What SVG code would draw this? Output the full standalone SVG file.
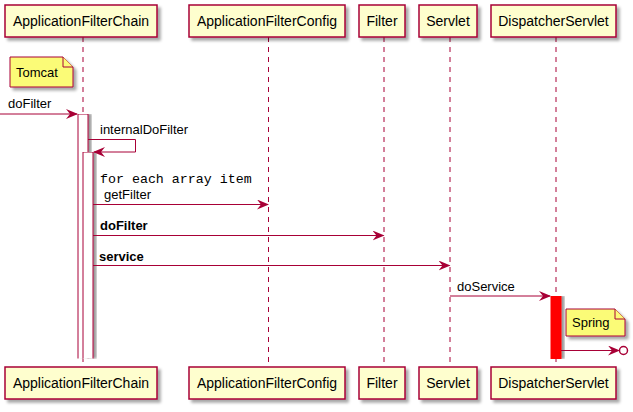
<svg xmlns="http://www.w3.org/2000/svg" width="633" height="412" viewBox="0 0 633 412">
<defs>
<filter id="sh" x="-10%" y="-10%" width="130%" height="150%">
<feGaussianBlur in="SourceAlpha" stdDeviation="1.5"/>
<feOffset dx="3" dy="3" result="b"/>
<feComponentTransfer><feFuncA type="linear" slope="0.35"/></feComponentTransfer>
<feMerge><feMergeNode/><feMergeNode in="SourceGraphic"/></feMerge>
</filter>
<filter id="shr" x="-10%" y="0%" width="150%" height="100%">
<feGaussianBlur in="SourceAlpha" stdDeviation="1"/>
<feOffset dx="3" dy="0" result="b"/>
<feComponentTransfer><feFuncA type="linear" slope="0.4"/></feComponentTransfer>
<feMerge><feMergeNode/><feMergeNode in="SourceGraphic"/></feMerge>
</filter>
<marker id="ah" viewBox="0 0 12 10" refX="11" refY="5" markerWidth="12" markerHeight="10" markerUnits="userSpaceOnUse" orient="auto">
<path d="M0,0 L12,5 L0,10 L4,5 Z" fill="#A80036"/>
</marker>
</defs>
<style>
.box{fill:#FEFECE;stroke:#A80036;stroke-width:1.5}
.life{stroke:#A80036;stroke-width:1;stroke-dasharray:5,5;fill:none}
.pt{font-family:"Liberation Sans",Arial,sans-serif;font-size:14px;fill:#000}
.mt{font-family:"Liberation Sans",Arial,sans-serif;font-size:13px;fill:#000}
.mb{font-family:"Liberation Sans",Arial,sans-serif;font-size:13px;font-weight:bold;fill:#000}
.mono{font-family:"Liberation Mono","Courier New",monospace;font-size:13.3px;fill:#000}
.msg{stroke:#A80036;stroke-width:1;fill:none}
.note{fill:#FBFB77;stroke:#A80036;stroke-width:1}
.act{fill:#FFFFFF;stroke:#A80036;stroke-width:1}
</style>
<g id="lifelines">
<line class="life" x1="83" y1="37" x2="83" y2="367"/>
<line class="life" x1="268.5" y1="37" x2="268.5" y2="367"/>
<line class="life" x1="384" y1="37" x2="384" y2="367"/>
<line class="life" x1="450" y1="37" x2="450" y2="367"/>
<line class="life" x1="556" y1="37" x2="556" y2="367"/>
</g>
<g id="p-chain">
<rect class="box" x="5" y="5" width="152" height="32" filter="url(#sh)"/>
<text class="pt" x="81" y="26" text-anchor="middle">ApplicationFilterChain</text>
<rect class="box" x="5" y="367" width="152" height="32" filter="url(#sh)"/>
<text class="pt" x="81" y="388" text-anchor="middle">ApplicationFilterChain</text>
</g>
<g id="p-config">
<rect class="box" x="189" y="5" width="156" height="32" filter="url(#sh)"/>
<text class="pt" x="267" y="26" text-anchor="middle">ApplicationFilterConfig</text>
<rect class="box" x="189" y="367" width="156" height="32" filter="url(#sh)"/>
<text class="pt" x="267" y="388" text-anchor="middle">ApplicationFilterConfig</text>
</g>
<g id="p-filter">
<rect class="box" x="359" y="5" width="46" height="32" filter="url(#sh)"/>
<text class="pt" x="382" y="26" text-anchor="middle">Filter</text>
<rect class="box" x="359" y="367" width="46" height="32" filter="url(#sh)"/>
<text class="pt" x="382" y="388" text-anchor="middle">Filter</text>
</g>
<g id="p-servlet">
<rect class="box" x="419" y="5" width="58" height="32" filter="url(#sh)"/>
<text class="pt" x="448" y="26" text-anchor="middle">Servlet</text>
<rect class="box" x="419" y="367" width="58" height="32" filter="url(#sh)"/>
<text class="pt" x="448" y="388" text-anchor="middle">Servlet</text>
</g>
<g id="p-dispatcher">
<rect class="box" x="491" y="5" width="125" height="32" filter="url(#sh)"/>
<text class="pt" x="553.5" y="26" text-anchor="middle">DispatcherServlet</text>
<rect class="box" x="491" y="367" width="125" height="32" filter="url(#sh)"/>
<text class="pt" x="553.5" y="388" text-anchor="middle">DispatcherServlet</text>
</g>
<g id="activations">
<path d="M78,358.5 L78,114 L88,114 L88,358.5" class="act" filter="url(#shr)"/>
<path d="M83,358.5 L83,152 L93,152 L93,358.5" class="act" filter="url(#shr)"/>
<rect x="551" y="296" width="10" height="62.5" fill="#FF0000" stroke="#FF0000" stroke-width="1" filter="url(#shr)"/>
</g>
<g id="note-tomcat">
<path class="note" d="M10,57 L63,57 L73,67 L73,87 L10,87 Z" filter="url(#sh)"/>
<path class="note" d="M63,57 L63,67 L73,67"/>
<text class="mt" x="16" y="77">Tomcat</text>
</g>
<g id="note-spring">
<path class="note" d="M566,309 L615,309 L625,319 L625,336 L566,336 Z" filter="url(#sh)"/>
<path class="note" d="M615,309 L615,319 L625,319"/>
<text class="mt" x="572" y="327">Spring</text>
</g>
<g id="connectors">
<line class="msg" x1="0" y1="114" x2="77" y2="114" marker-end="url(#ah)"/>
<text class="mt" x="8" y="108">doFilter</text>
<path class="msg" d="M88,139.5 L135.5,139.5 L135.5,152 L94,152" marker-end="url(#ah)"/>
<text class="mt" x="100" y="134">internalDoFilter</text>
<line class="msg" x1="93" y1="204.5" x2="268" y2="204.5" marker-end="url(#ah)"/>
<text class="mono" x="100" y="183">for each array item</text>
<text class="mt" x="104" y="199">getFilter</text>
<line class="msg" x1="93" y1="235.5" x2="383.5" y2="235.5" marker-end="url(#ah)"/>
<text class="mb" x="100" y="230">doFilter</text>
<line class="msg" x1="93" y1="265.5" x2="449.5" y2="265.5" marker-end="url(#ah)"/>
<text class="mb" x="99" y="261">service</text>
<line class="msg" x1="450" y1="296" x2="550" y2="296" marker-end="url(#ah)"/>
<text class="mt" x="457" y="291">doService</text>
<line class="msg" x1="561" y1="350.5" x2="619" y2="350.5" marker-end="url(#ah)"/>
<circle cx="623.5" cy="350.5" r="4" fill="none" stroke="#A80036" stroke-width="1.5"/>
</g>
</svg>
